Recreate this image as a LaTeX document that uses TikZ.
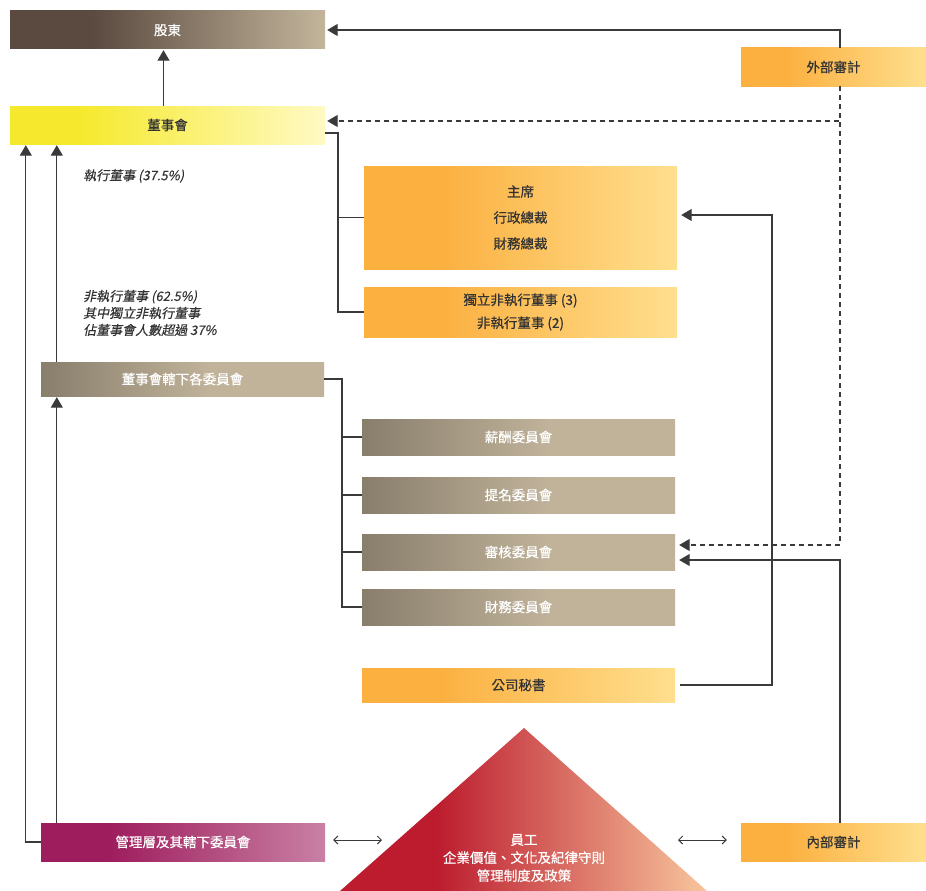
\documentclass[tikz,border=0pt]{standalone}
\usepackage{fontspec}
\setmainfont{Noto Sans CJK TC}[FakeBold=0.6]
\newfontfamily\slantfont{Noto Sans CJK TC}[FakeSlant=0.2,FakeBold=0.4]
\usetikzlibrary{arrows.meta,calc}
\definecolor{lc}{HTML}{3A3A3A}
\definecolor{txd}{HTML}{333333}
\definecolor{brA}{HTML}{5B4A40}
\definecolor{brB}{HTML}{C2B59B}
\definecolor{yeA}{HTML}{F6E92D}
\definecolor{yeB}{HTML}{FFFAC4}
\definecolor{orA}{HTML}{FBB040}
\definecolor{orB}{HTML}{FFDF8E}
\definecolor{tnA}{HTML}{887E6C}
\definecolor{tnB}{HTML}{C1B39A}
\definecolor{mgA}{HTML}{9E1D5D}
\definecolor{mgB}{HTML}{C980A4}
\definecolor{rdA}{HTML}{BC1C2E}
\definecolor{rdB}{HTML}{F8C59D}
\pgfdeclarehorizontalshading{brsh}{100bp}{color(0bp)=(brA); color(38bp)=(brA); color(75bp)=(brB); color(100bp)=(brB)}
\pgfdeclarehorizontalshading{yesh}{100bp}{color(0bp)=(yeA); color(36bp)=(yeA); color(75bp)=(yeB); color(100bp)=(yeB)}
\pgfdeclarehorizontalshading{orsh}{100bp}{color(0bp)=(orA); color(37bp)=(orA); color(75bp)=(orB); color(100bp)=(orB)}
\pgfdeclarehorizontalshading{tnsh}{100bp}{color(0bp)=(tnA); color(25bp)=(tnA); color(55bp)=(tnB); color(100bp)=(tnB)}
\pgfdeclarehorizontalshading{mgsh}{100bp}{color(0bp)=(mgA); color(37bp)=(mgA); color(75bp)=(mgB); color(100bp)=(mgB)}
\pgfdeclarehorizontalshading{rdsh}{100bp}{color(0bp)=(rdA); color(38bp)=(rdA); color(75bp)=(rdB); color(100bp)=(rdB)}
\begin{document}
\begin{tikzpicture}[x=1pt,y=-1pt,
  box/.style={rectangle, inner sep=0pt, minimum height=38pt, align=center,
    font=\fontsize{13.5}{16}\selectfont},
  lightbox/.style={box, text=txd},
  darkbox/.style={box, text=white},
  ln/.style={line width=1.2pt, draw=lc},
  arr/.style={ln, -{Triangle[length=10.5pt,width=12pt]}, shorten >=1pt},
  dsh/.style={arr, dash pattern=on 5pt off 4pt},
  dbl/.style={line width=1pt, draw=lc, {Straight Barb[length=4pt,width=8pt]}-{Straight Barb[length=4pt,width=8pt]}},
  lbl/.style={text=txd, align=left, inner sep=0pt, font=\slantfont\fontsize{13}{17}\selectfont}
]
\useasboundingbox (0,0) rectangle (926,891);

% boxes
\node[darkbox, shading=brsh, minimum width=315pt] (gd) at (167.5,30) {股東};
\node[lightbox, shading=yesh, minimum width=315pt] (dd) at (167.5,125) {董事會};
\node[lightbox, shading=orsh, minimum width=185pt] (ext) at (833.5,67) {外部審計};
\node[lightbox, shading=orsh, minimum width=313pt, minimum height=103pt,
  font=\fontsize{13.5}{26}\selectfont] (chair) at (520.5,217.5) {主席\\行政總裁\\財務總裁};
\node[lightbox, shading=orsh, minimum width=313pt, minimum height=50pt,
  font=\fontsize{13.5}{23}\selectfont] (ind) at (520.5,312) {獨立非執行董事 (3)\\非執行董事 (2)};
\node[darkbox, shading=tnsh, minimum width=283pt, minimum height=34pt] (bc) at (182.5,379) {董事會轄下各委員會};
\node[darkbox, shading=tnsh, minimum width=313pt, minimum height=36pt] (rem) at (518.5,437) {薪酬委員會};
\node[darkbox, shading=tnsh, minimum width=313pt, minimum height=36pt] (nom) at (518.5,495) {提名委員會};
\node[darkbox, shading=tnsh, minimum width=313pt, minimum height=36pt] (aud) at (518.5,552) {審核委員會};
\node[darkbox, shading=tnsh, minimum width=313pt, minimum height=36pt] (fin) at (518.5,607) {財務委員會};
\node[lightbox, shading=orsh, minimum width=313pt, minimum height=34pt] (sec) at (518.5,685) {公司秘書};
\node[darkbox, shading=mgsh, minimum width=284pt] (mgmt) at (183,842) {管理層及其轄下委員會};
\node[lightbox, shading=orsh, minimum width=185pt] (intaud) at (833.5,842) {內部審計};

% triangle
\shade[shading=rdsh] (340,891) -- (524,728) -- (707,891) -- cycle;
\node[text=white, align=center, inner sep=0pt, font=\fontsize{13.5}{18}\selectfont] (staff) at (524,858)
  {員工\\企業價值、文化及紀律守則\\管理制度及政策};

% labels
\node[lbl, anchor=west] (lblexec) at (83,176) {執行董事 (37.5\%)};
\node[lbl, anchor=west] (lblnon) at (83,313) {非執行董事 (62.5\%)\\其中獨立非執行董事\\佔董事會人數超過 37\%};

% connectors
\draw[arr] ([xshift=-4pt]dd.north) -- ([xshift=-4pt]gd.south);
\draw[arr] ([xshift=6.5pt]ext.north) |- ([xshift=1pt]gd.east);
\draw[dsh] ([xshift=6.5pt]ext.south) |- ([xshift=1pt,yshift=4pt]dd.east);
\draw[dsh] ([xshift=6.5pt]ext.south) |- ([xshift=3pt,yshift=7pt]aud.east);
\draw[arr] ([xshift=6.5pt]intaud.north) |- ([xshift=3pt,yshift=-8pt]aud.east);

\coordinate (ddj) at (338,133);
\draw[ln] ([yshift=-8pt]dd.east) -- (ddj) |- (ind.west);
\draw[ln] (ddj) |- (chair.west);

\coordinate (bcj) at (342,379);
\draw[ln] (bc.east) -- (bcj) |- (fin.west);
\draw[ln] (bcj) |- (rem.west);
\draw[ln] (bcj) |- (nom.west);
\draw[ln] (bcj) |- (aud.west);

\coordinate (secj) at (772,685);
\draw[arr] ([xshift=5pt]sec.east) -- (secj) |- ([xshift=3pt,yshift=2.5pt]chair.east);

\draw[arr] (mgmt.west) -| ([xshift=16pt]dd.south west);
\draw[arr] ([xshift=16pt]bc.north west) -- ([xshift=16pt]bc.north west |- dd.south);
\draw[arr] ([xshift=16pt]mgmt.north west) -- ([xshift=16pt]bc.south west);

\coordinate (triL) at (382,840);
\coordinate (triR) at (678,840);
\draw[dbl] ([xshift=8pt,yshift=2pt]mgmt.east) -- (triL);
\draw[dbl] (triR) -- ([xshift=-14pt,yshift=2pt]intaud.west);
\end{tikzpicture}
\end{document}
